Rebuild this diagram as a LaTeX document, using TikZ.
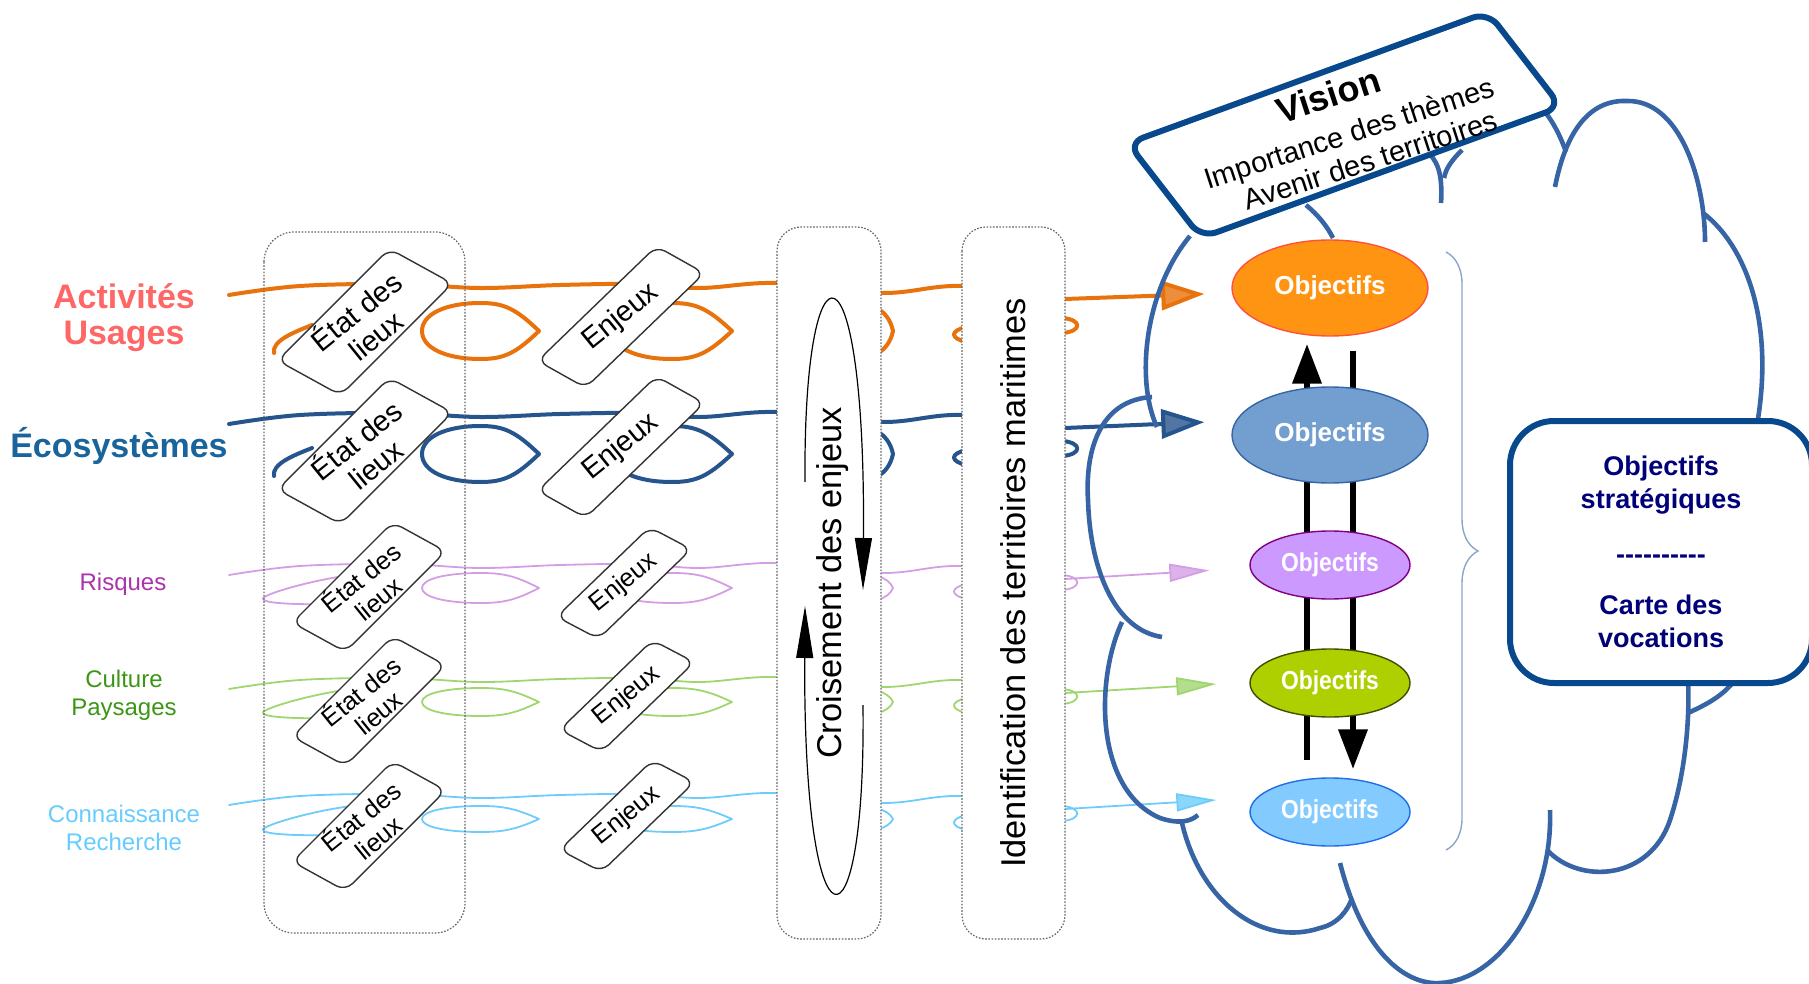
\documentclass[tikz,border=0pt]{standalone}
\usepackage{fontspec}
\setmainfont{Liberation Sans}
\newfontfamily\narrowsans[FakeStretch=0.88]{Liberation Sans}
\usetikzlibrary{shapes.geometric,arrows.meta,decorations.pathreplacing}

\definecolor{actline}{RGB}{232,114,12}
\definecolor{ecoline}{RGB}{38,84,140}
\definecolor{risline}{RGB}{212,158,228}
\definecolor{culline}{RGB}{160,214,112}
\definecolor{conline}{RGB}{110,204,250}
\definecolor{actlab}{RGB}{255,102,102}
\definecolor{ecolab}{RGB}{25,100,155}
\definecolor{rislab}{RGB}{170,50,170}
\definecolor{cullab}{RGB}{60,150,20}
\definecolor{conlab}{RGB}{102,204,255}
\definecolor{cloudblue}{RGB}{55,100,165}
\definecolor{frameblue}{RGB}{8,72,140}
\definecolor{navytext}{RGB}{0,0,120}
\definecolor{bracecol}{RGB}{140,165,200}
\definecolor{ob1fill}{RGB}{255,148,18}
\definecolor{ob1line}{RGB}{255,80,60}
\definecolor{ob2fill}{RGB}{114,159,207}
\definecolor{ob2line}{RGB}{52,101,164}
\definecolor{ob3fill}{RGB}{204,153,255}
\definecolor{ob3line}{RGB}{128,0,128}
\definecolor{ob4fill}{RGB}{175,208,0}
\definecolor{ob4line}{RGB}{60,80,0}
\definecolor{ob5fill}{RGB}{131,202,255}
\definecolor{ob5line}{RGB}{30,110,230}

\pgfdeclarelayer{background}
\pgfsetlayers{background,main}

\begin{document}
\begin{tikzpicture}[x=0.5pt,y=-0.5pt,
		tag/.style={align=center,inner sep=0pt},
		colbox/.style={draw=black!60,line width=0.6pt,dash pattern=on 0.8pt off 0.8pt,rounded corners=15pt},
		cardbox/.style={draw=black!80,line width=0.7pt,fill=white,rounded corners=5pt},
		cardtext/.style={rotate=39,align=center,inner sep=0pt},
		goal/.style={ellipse,draw,line width=0.7pt,inner sep=0pt,text=white},
		bigfont/.style={font=\bfseries\fontsize{13}{13}\selectfont},
		smallfont/.style={font=\narrowsans\bfseries\fontsize{13}{13}\selectfont},
		bigarrow/.style={line width=3.4pt,-{Triangle[length=20pt,width=14pt]}},
		thinarrow/.style={line width=0.6pt,-{Triangle[length=26pt,width=8.5pt]}},
		cloudline/.style={draw=cloudblue,line width=2.3pt},
		bluebox/.style={draw=frameblue,line width=3pt,fill=white},
		coil/.style={line cap=round,line join=round}]

	\useasboundingbox (0,0) rectangle (1809,984);

	\node[tag,text=actlab,font=\bfseries\fontsize{17}{18}\selectfont] (act) at (124,318) {Activités\\Usages};
	\node[tag,text=ecolab,font=\bfseries\fontsize{17}{18}\selectfont] (eco) at (119,446) {Écosystèmes};
	\node[tag,text=rislab,font=\fontsize{12}{14}\selectfont] (ris) at (123,584) {Risques};
	\node[tag,text=cullab,font=\fontsize{12}{14}\selectfont] (cul) at (124,695) {Culture\\Paysages};
	\node[tag,text=conlab,font=\fontsize{12}{14}\selectfont] (con) at (124,828) {Connaissance\\Recherche};

	\node[goal,bigfont,fill=ob1fill,draw=ob1line,minimum width=98pt,minimum height=48pt] (ob1) at (1330,288) {Objectifs};
	\node[goal,bigfont,fill=ob2fill,draw=ob2line,minimum width=98pt,minimum height=48pt] (ob2) at (1330,435) {Objectifs};
	\node[goal,smallfont,fill=ob3fill,draw=ob3line,minimum width=80pt,minimum height=34pt] (ob3) at (1330,565) {Objectifs};
	\node[goal,smallfont,fill=ob4fill,draw=ob4line,minimum width=80pt,minimum height=34pt] (ob4) at (1330,683) {Objectifs};
	\node[goal,smallfont,fill=ob5fill,draw=ob5line,minimum width=80pt,minimum height=34pt] (ob5) at (1330,812) {Objectifs};

	\begin{pgfonlayer}{background}
		\draw[bigarrow] ([xshift=-11.5pt,yshift=8.5pt]ob5.north) -- ([xshift=-11.5pt,yshift=-3.5pt]ob1.south);
		\draw[bigarrow] ([xshift=11.5pt,yshift=-7pt]ob1.south) -- ([xshift=11.5pt,yshift=4pt]ob5.north);
	\end{pgfonlayer}

	\foreach \col/\lw/\ty/\my/\hh/\idx/\ysh/\shr/\al/\aw in {
			actline/2pt/283/331/28/1/-2.5pt/13.5pt/21.5pt/14.5pt,
			ecoline/2pt/412/454/28/2/7pt/13.5pt/21.5pt/14.5pt,
			risline/0.9pt/563/588/15/3/-1.5pt/20pt/20pt/9pt,
			culline/0.9pt/677/702/14/4/0.5pt/16.5pt/20pt/9pt,
			conline/0.9pt/793/819/13/5/7pt/16.5pt/20pt/9pt} {
		\draw[coil,color=\col,line width=\lw] plot[smooth,tension=0.6] coordinates {(229,{\ty+12}) (300,{\ty+3}) (400,{\ty+1}) (480,{\ty+5}) (560,{\ty+2}) (640,{\ty+1}) (700,{\ty+5}) (777,\ty) (881,{\ty+10}) (962,{\ty+3}) (1065,{\ty+16})};
		\foreach \xl/\xt/\f in {422/539/0.2,612/732/0.2,815/893/0.06}
			\draw[coil,color=\col,line width=\lw] (\xt,\my) .. controls ({\xt-\f*(\xt-\xl)},{\my-0.8*\hh}) and ({\xt-0.3*(\xt-\xl)},{\my-\hh}) .. ({\xt-0.5*(\xt-\xl)},{\my-\hh})
				.. controls ({\xt-0.8*(\xt-\xl)},{\my-\hh}) and (\xl,{\my-0.6*\hh}) .. (\xl,\my)
				.. controls (\xl,{\my+0.6*\hh}) and ({\xt-0.8*(\xt-\xl)},{\my+\hh}) .. ({\xt-0.5*(\xt-\xl)},{\my+\hh})
				.. controls ({\xt-0.3*(\xt-\xl)},{\my+\hh}) and ({\xt-\f*(\xt-\xl)},{\my+0.8*\hh}) .. (\xt,\my);
		\draw[coil,color=\col,line width=\lw] (966,{\my-4}) .. controls (950,\my) and (950,{\my+7}) .. (966,{\my+11});
		\draw[coil,color=\col,line width=\lw] (1063,{\my-13}) .. controls (1082,{\my-11}) and (1082,\my) .. (1063,{\my+2});
		\ifdim\hh pt>20pt
			\draw[coil,color=\col,line width=\lw] (312,{\my-6}) .. controls (292,{\my+2}) and (272,{\my+10}) .. (274,{\my+22});
		\else
			\draw[coil,color=\col,line width=\lw] (360,{\my-14}) .. controls (320,{\my-10}) and (270,{\my+4}) .. (263,{\my+10})
				.. controls (260,{\my+15}) and (290,{\my+17}) .. (340,{\my+16});
		\fi
		\coordinate (coil\idx) at (1065,{\ty+16});
		\draw[coil,color=\col,line width=\lw,-{Triangle[length=\al,width=\aw,fill=\col!80!white]},shorten >=\shr] (coil\idx) -- ([yshift=\ysh]ob\idx.west);
	}

	\draw[colbox] (264,232) rectangle (465,933);
	\foreach \nm/\x/\y in {e1/365/322,e2/365/451} {
		\node[cardbox,rotate=45,xslant=-0.29,minimum width=79pt,minimum height=34.5pt] (\nm) at (\x,\y) {};
		\node[cardtext,font=\fontsize{14.5}{15.5}\selectfont] (\nm-t) at (\x,\y) {État des\\lieux};
	}
	\foreach \nm/\x/\y in {e3/369/587,e4/369/701,e5/369/826} {
		\node[cardbox,rotate=45,xslant=-0.29,minimum width=71pt,minimum height=29pt] (\nm) at (\x,\y) {};
		\node[cardtext,font=\fontsize{12.7}{13.8}\selectfont] (\nm-t) at (\x,\y) {État des\\lieux};
	}
	\foreach \nm/\x/\y in {j1/621/317,j2/621/447} {
		\node[cardbox,rotate=44,xslant=-0.30,minimum width=82.5pt,minimum height=26.3pt] (\nm) at (\x,\y) {};
		\node[cardtext,font=\fontsize{14.5}{15}\selectfont] (\nm-t) at (\x,\y) {Enjeux};
	}
	\foreach \nm/\x/\y in {j3/624/583,j4/627/696,j5/627/816} {
		\node[cardbox,rotate=44,xslant=-0.33,minimum width=64.5pt,minimum height=22.4pt] (\nm) at (\x,\y) {};
		\node[cardtext,font=\fontsize{12.7}{13}\selectfont] (\nm-t) at (\x,\y) {Enjeux};
	}

	\draw[colbox,fill=white,rounded corners=12pt] (777,227) rectangle (881,939);
	\node[rotate=90,inner sep=0pt,font=\fontsize{17.2}{17.2}\selectfont] (cross) at (833,583) {Croisement des enjeux};
	\draw[thinarrow] (805,482) .. controls (803,228) and (866,228) .. (863,590);
	\draw[thinarrow] (863,705) .. controls (866,965) and (803,965) .. (805,606);

	\draw[colbox,fill=white,rounded corners=12pt] (962,227) rectangle (1065,939);
	\node[rotate=90,inner sep=0pt,font=\fontsize{17.2}{17.2}\selectfont] (ident) at (1013,583) {Identification des territoires maritimes};

	\draw[cloudline] (1190,236) .. controls (1145,290) and (1135,380) .. (1157,427);
	\draw[cloudline] (1306,205) .. controls (1318,215) and (1327,226) .. (1333,238);
	\draw[cloudline] (1152,397) .. controls (1100,400) and (1085,450) .. (1088,500) .. controls (1090,570) and (1115,630) .. (1162,637);
	\draw[cloudline] (1122,622) .. controls (1095,680) and (1095,790) .. (1160,818) .. controls (1178,824) and (1190,822) .. (1198,815);
	\draw[cloudline] (1182,823) .. controls (1200,900) and (1260,948) .. (1320,928) .. controls (1338,924) and (1348,910) .. (1352,898);
	\draw[cloudline] (1340,863) .. controls (1365,960) and (1410,985) .. (1440,983) .. controls (1500,980) and (1553,900) .. (1550,810);
	\draw[cloudline] (1547,850) .. controls (1580,885) and (1650,880) .. (1670,820) .. controls (1685,775) and (1690,720) .. (1688,680);
	\draw[cloudline] (1688,713) .. controls (1705,705) and (1722,697) .. (1735,680);
	\draw[cloudline] (1703,213) .. controls (1745,245) and (1775,320) .. (1757,425);
	\draw[cloudline] (1555,187) .. controls (1570,110) and (1605,100) .. (1627,101) .. controls (1680,100) and (1705,180) .. (1705,242);
	\draw[cloudline] (1566,152) .. controls (1560,135) and (1553,122) .. (1545,112);
	\draw[cloudline] (1426,150) .. controls (1436,160) and (1443,170) .. (1441,203);
	\draw[cloudline] (1462,150) .. controls (1452,160) and (1446,168) .. (1444,178);

	\draw[bracecol,line width=0.7pt,decorate,decoration={brace,amplitude=16pt}] (1446,252) -- (1446,850);

	\node[bluebox,rounded corners=8pt,rotate=20,xslant=-0.32,minimum width=191.5pt,minimum height=57pt] (vision) at (1344.5,125) {};
	\node[rotate=18,align=center,inner sep=0pt,font=\fontsize{14.5}{16}\selectfont] (visiontext) at (1347,127)
		{{\bfseries\fontsize{18}{18}\selectfont Vision}\hspace*{8pt}\\[4pt]Importance des thèmes\\\hspace*{12pt}Avenir des territoires};

	\node[bluebox,rounded corners=22pt,minimum width=151pt,minimum height=131pt,align=center,text=navytext,
		font=\bfseries\fontsize{13.5}{16.5}\selectfont] (strat) at (1661,552)
		{Objectifs\\stratégiques\\[11pt]-{}-{}-{}-{}-{}-{}-{}-{}-{}-\\[9pt]Carte des\\vocations};
\end{tikzpicture}
\end{document}
